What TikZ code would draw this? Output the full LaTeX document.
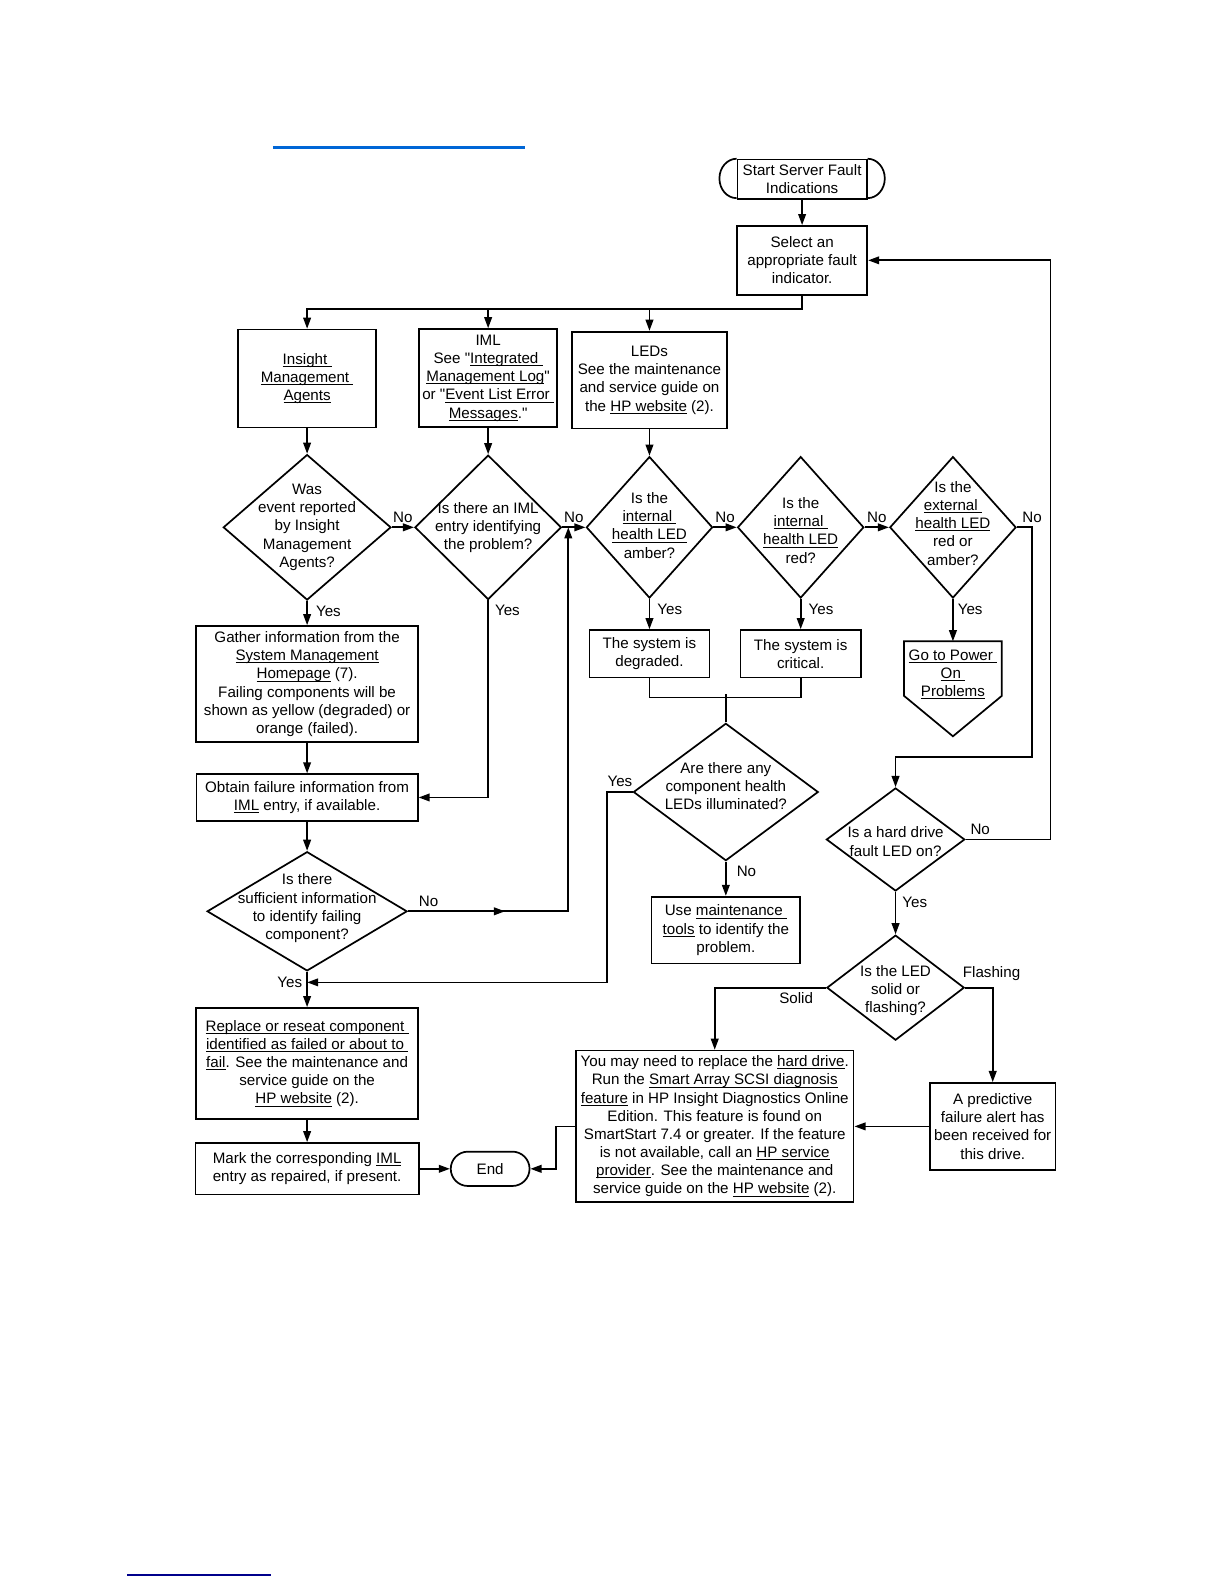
\documentclass[tikz,border=0pt]{standalone}
\usepackage{fontspec}
\setmainfont{Liberation Sans}[Ligatures=TeXOff]
\usetikzlibrary{positioning}
\usetikzlibrary{arrows.meta}
\usetikzlibrary{calc}
\usetikzlibrary{shapes.geometric}

\definecolor{linkblue}{RGB}{0,102,214}
\definecolor{navyline}{RGB}{0,0,140}

\newcommand{\lnk}[1]{\setbox0\hbox{#1}\rlap{\rule[-1.3pt]{\wd0}{0.45pt}}\box0\relax}

\begin{document}
\begin{tikzpicture}[
    x=0.5pt, y=-0.5pt,
    line width=0.85pt,
    >={Triangle[length=5.5pt,width=3.8pt]},
    font=\fontsize{7.5}{9}\selectfont,
    block/.style={align=center, rectangle, draw=black, fill=white, inner sep=0pt},
    terminal/.style={align=center, rectangle, rounded corners=8.5pt, draw=black, fill=white, inner sep=0pt},
    decision/.style={diamond, draw=black, fill=white, inner sep=0pt},
    dtext/.style={align=center, inner sep=0pt},
    lbl/.style={inner sep=2pt},
]
    \useasboundingbox (0,0) rectangle (1212,1568);

    \draw[linkblue, line width=1pt] (270,146) -- (520,146);
    \draw[navyline, line width=0.8pt] (126,1559) -- (268,1559);

    \node[block, minimum width=64pt, minimum height=19.5pt] (S1) at (794,177.5) {Start Server Fault\\Indications};
    \node[block, minimum width=64.5pt, minimum height=34pt] (S2) [below=12.5pt of S1] {Select an\\appropriate fault\\indicator.};

    % decision row
    \node[decision, minimum width=83pt, minimum height=72pt,
        label={[dtext]center:Was\\event reported\\by Insight\\Management\\Agents?}] (D1) at (304,522) {};
    \node[decision, minimum width=72.5pt, minimum height=71.5pt,
        label={[dtext]center:Is there an IML\\entry identifying\\the problem?}] (D2) [right=11pt of D1] {};
    \node[decision, minimum width=62.5pt, minimum height=70pt,
        label={[dtext, yshift=1pt]center:Is the\\\lnk{internal\ }\\\lnk{health LED}\\amber?}] (D3) [right=11.5pt of D2] {};
    \node[decision, minimum width=62.5pt, minimum height=70pt,
        label={[dtext, yshift=-1.5pt]center:Is the\\\lnk{internal\ }\\\lnk{health LED}\\red?}] (D4) [right=11.5pt of D3] {};
    \node[decision, minimum width=62.5pt, minimum height=70pt,
        label={[dtext, yshift=2pt]center:Is the\\\lnk{external\ }\\\lnk{health LED}\\red or\\amber?}] (D5) [right=12pt of D4] {};

    \node[block, minimum width=68.5pt, minimum height=48.5pt] (A1) [above=12.5pt of D1] {\lnk{Insight\ }\\\lnk{Management\ }\\\lnk{Agents}};
    \node[block, minimum width=68.5pt, minimum height=48.5pt] (A2) [above=13pt of D2] {IML\\See "\lnk{Integrated\ }\\\lnk{Management Log}"\\or "\lnk{Event List Error\ }\\\lnk{Messages}."};
    \node[block, minimum width=77pt, minimum height=48pt] (A3) [above=13pt of D3] {LEDs\\See the maintenance\\and service guide on\\the \lnk{HP website} (2).};

    % left column
    \node[block, minimum width=110pt, minimum height=57.5pt] (B1) [below=12pt of D1] {Gather information from the\\\lnk{System Management}\\\lnk{Homepage} (7).\\Failing components will be\\shown as yellow (degraded) or\\orange (failed).};
    \node[block, minimum width=109.5pt, minimum height=23pt] (B2) [below=15pt of B1] {Obtain failure information from\\\lnk{IML} entry, if available.};
    \node[decision, minimum width=99pt, minimum height=59pt,
        label={[dtext, yshift=1.5pt]center:Is there\\sufficient information\\to identify failing\\component?}] (D8) [below=14.5pt of B2] {};
    \node[block, minimum width=110pt, minimum height=55pt] (B3) [below=17.5pt of D8] {\lnk{Replace or reseat component\ }\\\lnk{identified as failed or about to\ }\\\lnk{fail}. See the maintenance and\\service guide on the\\\lnk{HP website} (2).};
    \node[block, minimum width=110.5pt, minimum height=25.5pt] (B4) [below=11pt of B3] {Mark the corresponding \lnk{IML}\\entry as repaired, if present.};
    \node[terminal, minimum width=39pt, minimum height=17pt] (E1) [right=15pt of B4] {End};

    % middle and right
    \node[block, minimum width=59.5pt, minimum height=23.5pt] (C1) [below=15pt of D3] {The system is\\degraded.};
    \node[block, minimum width=59.5pt, minimum height=23.5pt] (C2) [below=15pt of D4] {The system is\\critical.};
    \node[align=center, inner sep=0pt, minimum width=47.5pt, minimum height=32pt] (G1) [below=21pt of D5] {\lnk{Go to Power\ }\\\lnk{On\ }\\\lnk{Problems}};

    \node[decision, minimum width=91.5pt, minimum height=68pt,
        label={[dtext, yshift=3pt]center:Are there any\\component health\\LEDs illuminated?}] (D7) at (718.5,784) {};
    \node[block, minimum width=73.5pt, minimum height=33pt] (C3) [below=17pt of D7] {Use \lnk{maintenance\ }\\\lnk{tools} to identify the\\problem.};

    \node[decision, minimum width=68.5pt, minimum height=51pt,
        label={[dtext, yshift=-1pt]center:Is a hard drive\\fault LED on?}] (D6) at (886.5,831) {};
    \node[decision, minimum width=68pt, minimum height=52pt,
        label={[dtext, yshift=-1.5pt]center:Is the LED\\solid or\\flashing?}] (D9) [below=21pt of D6] {};

    \node[block, minimum width=137.5pt, minimum height=75pt] (Y1) at (707.5,1115) {You may need to replace the \lnk{hard drive}.\\Run the \lnk{Smart Array SCSI diagnosis}\\\lnk{feature} in HP Insight Diagnostics Online\\Edition. This feature is found on\\SmartStart 7.4 or greater. If the feature\\is not available, call an \lnk{HP service}\\\lnk{provider}. See the maintenance and\\service guide on the \lnk{HP website} (2).};
    \node[block, minimum width=62pt, minimum height=43pt] (P1) [right=37pt of Y1] {A predictive\\failure alert has\\been received for\\this drive.};

    \coordinate (J1) at ($(D2.east)+(6,0)$);
    \coordinate (J2) at ($(D8.south)!0.3!(B3.north)$);

    % shapes drawn round the nodes
    \draw (S1.north west) arc[start angle=90, end angle=270, x radius=8.5pt, y radius=9.75pt];
    \draw (S1.north east) arc[start angle=90, end angle=-90, x radius=8.5pt, y radius=9.75pt];
    \draw (G1.north west) -- (G1.north east) -- ($(G1.north east)+(0,54)$) -- ($(G1.north)+(0,94)$) -- ($(G1.north west)+(0,54)$) -- cycle;

    \draw[->] (S1.south) -- (S2.north);
    \draw[->] (S2.south) -- ++(0,13) -| (A1.north);
    \draw[->] (S2.south) -- ++(0,13) -| (A2.north);
    \draw[->] (S2.south) -- ++(0,13) -| (A3.north);
    \draw[->] (A1.south) -- (D1.north);
    \draw[->] (A2.south) -- (D2.north);
    \draw[->] (A3.south) -- (D3.north);

    \draw[->] (D1.east) -- node[lbl, above] {No} (D2.west);
    \draw[->] (D2.east) -- node[lbl, above] {No} (D3.west);
    \draw[->] (D3.east) -- node[lbl, above] {No} (D4.west);
    \draw[->] (D4.east) -- node[lbl, above] {No} (D5.west);
    \draw[->] (D5.east) -- ++(15,0) node[lbl, above] {No} |- ($(D6.north)+(0,-30)$) -- (D6.north);

    \draw[->] (D1.south) node[lbl, below right, xshift=2pt] {Yes} -- (B1.north);
    \draw[->] (D2.south) node[lbl, below right, xshift=1pt] {Yes} |- (B2.east);
    \draw[->] (D3.south) node[lbl, below right, xshift=1.5pt] {Yes} -- (C1.north);
    \draw[->] (D4.south) node[lbl, below right, xshift=1.5pt] {Yes} -- (C2.north);
    \draw[->] (D5.south) node[lbl, below right] {Yes} -- (G1.north);

    \draw[->] (B1.south) -- (B2.north);
    \draw[->] (B2.south) -- (D8.north);
    \draw[->] (D8.east) node[lbl, above right, xshift=3pt] {No} -- ++(96,0);
    \draw[->] (D8.east) -| (J1);
    \draw[->] (D8.south) node[lbl, below left] {Yes} -- (B3.north);
    \draw[->] (B3.south) -- (B4.north);
    \draw[->] (B4.east) -- (E1.west);

    \draw (C1.south) -- ++(0,19) -| (C2.south);
    \draw (D7.north) -- ++(0,-28);
    \draw[->] (D7.west) -- node[lbl, above] {Yes} ++(-25,0) |- (J2);
    \draw[->] (D7.south) node[lbl, below right, xshift=3pt] {No} -- (C3.north);

    \draw[->] (D6.east) node[lbl, above right] {No} -- ++(84,0) |- (S2.east);
    \draw[->] (D6.south) node[lbl, below right, xshift=1pt] {Yes} -- (D9.north);
    \draw[->] (D9.west) node[lbl, below left, xshift=-4pt] {Solid} -| (Y1.north);
    \draw[->] (D9.east) node[lbl, above right, xshift=-3.5pt, yshift=1pt] {Flashing} -| (P1.north);
    \draw[->] (P1.west) -- (Y1.east);
    \draw[->] (Y1.west) -- ++(-19,0) |- (E1.east);

\end{tikzpicture}
\end{document}
